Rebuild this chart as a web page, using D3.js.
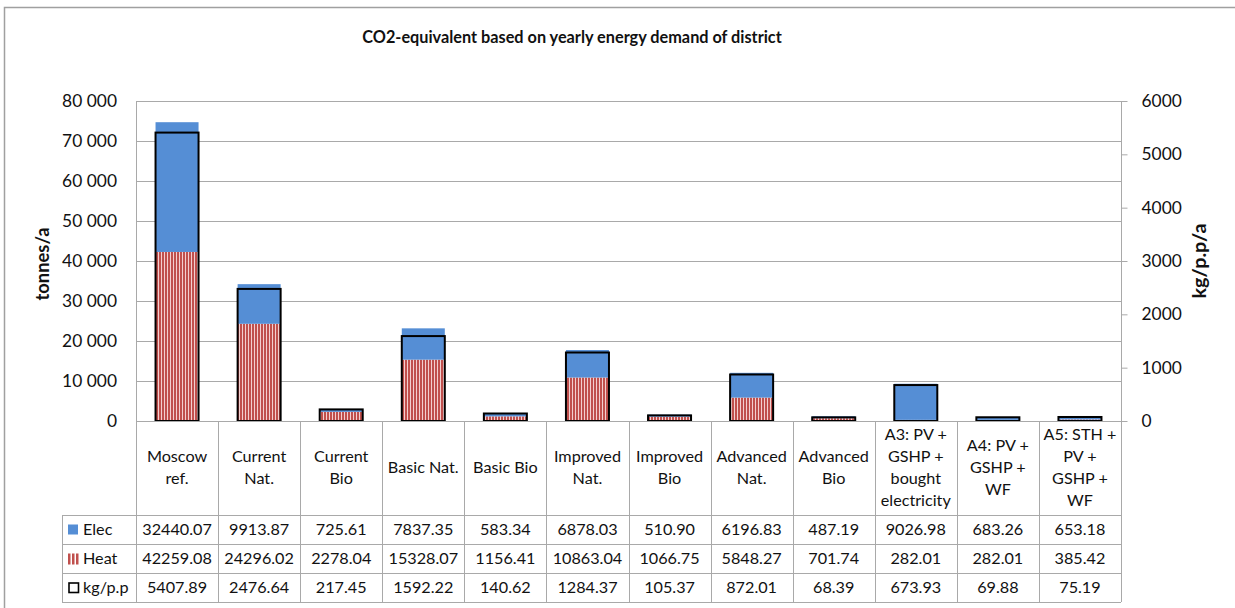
<!DOCTYPE html>
<html>
<head>
<meta charset="utf-8">
<script src="https://cdn.jsdelivr.net/npm/d3@7"></script>
<style>
  html, body { margin: 0; padding: 0; background: #fff; }
  svg { display: block; font-family: Lato, "Open Sans", sans-serif; }
</style>
</head>
<body>
<svg id="chart" width="1235" height="608"></svg>
<script>
// ---- data ----
const categories = [
  "Moscow\nref.", "Current\nNat.", "Current\nBio", "Basic Nat.", "Basic Bio",
  "Improved\nNat.", "Improved\nBio", "Advanced\nNat.", "Advanced\nBio",
  "A3: PV +\nGSHP +\nbought\nelectricity", "A4: PV +\nGSHP +\nWF", "A5: STH +\nPV +\nGSHP +\nWF"
];
const elec = [32440.07, 9913.87, 725.61, 7837.35, 583.34, 6878.03, 510.90, 6196.83, 487.19, 9026.98, 683.26, 653.18];
const heat = [42259.08, 24296.02, 2278.04, 15328.07, 1156.41, 10863.04, 1066.75, 5848.27, 701.74, 282.01, 282.01, 385.42];
const kgpp = [5407.89, 2476.64, 217.45, 1592.22, 140.62, 1284.37, 105.37, 872.01, 68.39, 673.93, 69.88, 75.19];
const leftTicks = [0, 10000, 20000, 30000, 40000, 50000, 60000, 70000, 80000];
const rightTicks = [0, 1000, 2000, 3000, 4000, 5000, 6000];
const seriesNames = ["Elec", "Heat", "kg/p.p"];
const title = "CO2-equivalent based on yearly energy demand of district";
const leftTitle = "tonnes/a";
const rightTitle = "kg/p.p/a";

// ---- layout ----
const svg = d3.select("#chart");
const L = 136, R = 1121, T = 101, B = 421;
const tableTop = 515, rowH = 29;
const legendLeft = 62;
const grid = "#a9a9a9";
const blue = "#558ed5";
const textCol = "#111";

const x = d3.scaleBand().domain(d3.range(categories.length)).range([L, R]).paddingInner(0.476).paddingOuter(0.238);
const col = d3.scaleBand().domain(d3.range(categories.length)).range([L, R]).padding(0);
const y = d3.scaleLinear().domain([0, 80000]).range([B, T]);
const yR = d3.scaleLinear().domain([0, 6000]).range([B, T]);

// pattern for heat
const defs = svg.append("defs");
const pat = defs.append("pattern").attr("id", "heatPat").attr("patternUnits", "userSpaceOnUse")
  .attr("width", 3).attr("height", 4);
pat.append("rect").attr("width", 3).attr("height", 4).attr("fill", "#f3cfcf");
pat.append("rect").attr("width", 2).attr("height", 4).attr("fill", "#c0504d");

// outer border
svg.append("path").attr("d", "M4.5,620 L4.5,7.5 L1250,7.5").attr("fill", "none").attr("stroke", "#a0a0a0").attr("stroke-width", 1.5);

function fitText(sel, target) {
  const w = sel.node().getComputedTextLength();
  const fs = parseFloat(sel.attr("font-size"));
  sel.attr("font-size", (fs * target / w).toFixed(2));
}

// title
const tt = svg.append("text").attr("x", 572).attr("y", 39).attr("text-anchor", "middle")
  .attr("dominant-baseline", "middle").attr("font-weight", "bold").attr("font-size", 18)
  .attr("fill", textCol).text(title);
fitText(tt, 420);

// gridlines
svg.append("g").selectAll("line").data(leftTicks).join("line")
  .attr("x1", L).attr("x2", R)
  .attr("y1", d => Math.round(y(d)) + 0.5).attr("y2", d => Math.round(y(d)) + 0.5)
  .attr("stroke", grid).attr("stroke-width", 1);

// left axis
const fmt = d => d3.format(",")(d).replace(/,/g, " ");
const gl = svg.append("g").attr("transform", `translate(${L},0)`)
  .call(d3.axisLeft(y).tickValues(leftTicks).tickFormat(fmt).tickSize(0).tickPadding(19));
gl.select(".domain").attr("stroke", grid).attr("d", `M0.5,${T}V${B}`);
gl.selectAll("text").attr("font-size", 17.4).attr("font-family", "Lato").attr("fill", textCol);

// right axis
const gr = svg.append("g").attr("transform", `translate(${R + 0.5},0)`)
  .call(d3.axisRight(yR).tickValues(rightTicks).tickFormat(d3.format("d")).tickSize(6).tickPadding(14));
gr.select(".domain").attr("stroke", grid).attr("d", `M0,${T}V${tableTop + rowH * 3}`);
gr.selectAll(".tick line").attr("stroke", grid);
gr.selectAll("text").attr("font-size", 17.4).attr("font-family", "Lato").attr("fill", textCol);

// axis titles
const lt = svg.append("text").attr("transform", `translate(44,264) rotate(-90)`).attr("text-anchor", "middle")
  .attr("dominant-baseline", "middle").attr("font-weight", "bold").attr("font-size", 17).attr("fill", textCol).text(leftTitle);
fitText(lt, 73);
const rt = svg.append("text").attr("transform", `translate(1201,261) rotate(-90)`).attr("text-anchor", "middle")
  .attr("dominant-baseline", "middle").attr("font-weight", "bold").attr("font-size", 17).attr("fill", textCol).text(rightTitle);
fitText(rt, 75);

// bars
const bars = svg.append("g");
bars.selectAll("rect.heat").data(heat).join("rect").attr("class", "heat")
  .attr("x", (d, i) => x(i)).attr("width", x.bandwidth())
  .attr("y", d => y(d)).attr("height", d => y(0) - y(d))
  .attr("fill", "url(#heatPat)");
bars.selectAll("rect.elec").data(elec).join("rect").attr("class", "elec")
  .attr("x", (d, i) => x(i)).attr("width", x.bandwidth())
  .attr("y", (d, i) => y(d + heat[i])).attr("height", (d, i) => y(heat[i]) - y(d + heat[i]))
  .attr("fill", blue);
bars.selectAll("rect.kg").data(kgpp).join("rect").attr("class", "kg")
  .attr("x", (d, i) => x(i)).attr("width", x.bandwidth())
  .attr("y", d => yR(d)).attr("height", d => yR(0) - yR(d))
  .attr("fill", "none").attr("stroke", "#000").attr("stroke-width", 2);

// table lines
const tg = svg.append("g").attr("stroke", grid).attr("stroke-width", 1).attr("fill", "none");
const bottom = tableTop + rowH * 3;
tg.append("line").attr("x1", L).attr("x2", R).attr("y1", B + 0.5).attr("y2", B + 0.5);
[0, 1, 2, 3].forEach(r => {
  tg.append("line").attr("x1", legendLeft).attr("x2", R)
    .attr("y1", tableTop + r * rowH + 0.5).attr("y2", tableTop + r * rowH + 0.5);
});
d3.range(categories.length + 1).forEach(i => {
  const xx = Math.round(L + i * col.step()) + 0.5;
  tg.append("line").attr("x1", xx).attr("x2", xx).attr("y1", B).attr("y2", bottom);
});
tg.append("line").attr("x1", legendLeft + 0.5).attr("x2", legendLeft + 0.5).attr("y1", tableTop).attr("y2", bottom);

// category labels
const lineH = 21.8;
const fsT = 16.2;
const labG = svg.append("g").attr("font-size", fsT).attr("fill", textCol).attr("text-anchor", "middle");
categories.forEach((c, i) => {
  const lines = c.split("\n");
  const cx = col(i) + col.bandwidth() / 2;
  const cy = (B + tableTop) / 2 + 1;
  const t = labG.append("text").attr("x", cx).attr("dominant-baseline", "middle");
  lines.forEach((ln, k) => {
    t.append("tspan").attr("x", cx).attr("y", cy + (k - (lines.length - 1) / 2) * lineH).text(ln);
  });
});

// values rows
const rows = [elec, heat, kgpp];
const valG = svg.append("g").attr("font-size", fsT).attr("fill", textCol).attr("text-anchor", "middle");
rows.forEach((arr, r) => {
  valG.selectAll(null).data(arr).join("text")
    .attr("x", (d, i) => col(i) + col.bandwidth() / 2)
    .attr("y", tableTop + r * rowH + rowH / 2 + 1)
    .attr("dominant-baseline", "middle")
    .text(d => d.toFixed(2));
});

// legend keys + names
const legG = svg.append("g");
seriesNames.forEach((n, r) => {
  const cy = tableTop + r * rowH + rowH / 2;
  if (r === 0) {
    legG.append("rect").attr("x", 68).attr("y", cy - 5).attr("width", 10).attr("height", 10).attr("fill", blue);
  } else if (r === 1) {
    [0, 1, 2].forEach(k => legG.append("rect").attr("x", 68 + k * 4).attr("y", cy - 5).attr("width", 2.5).attr("height", 11).attr("fill", "#c0504d"));
  } else {
    legG.append("rect").attr("x", 69).attr("y", cy - 4.5).attr("width", 9.5).attr("height", 9.5).attr("fill", "none").attr("stroke", "#000").attr("stroke-width", 1.6);
  }
  legG.append("text").attr("x", 83).attr("y", cy + 1).attr("dominant-baseline", "middle")
    .attr("font-size", fsT).attr("fill", textCol).text(n);
});
</script>
</body>
</html>
